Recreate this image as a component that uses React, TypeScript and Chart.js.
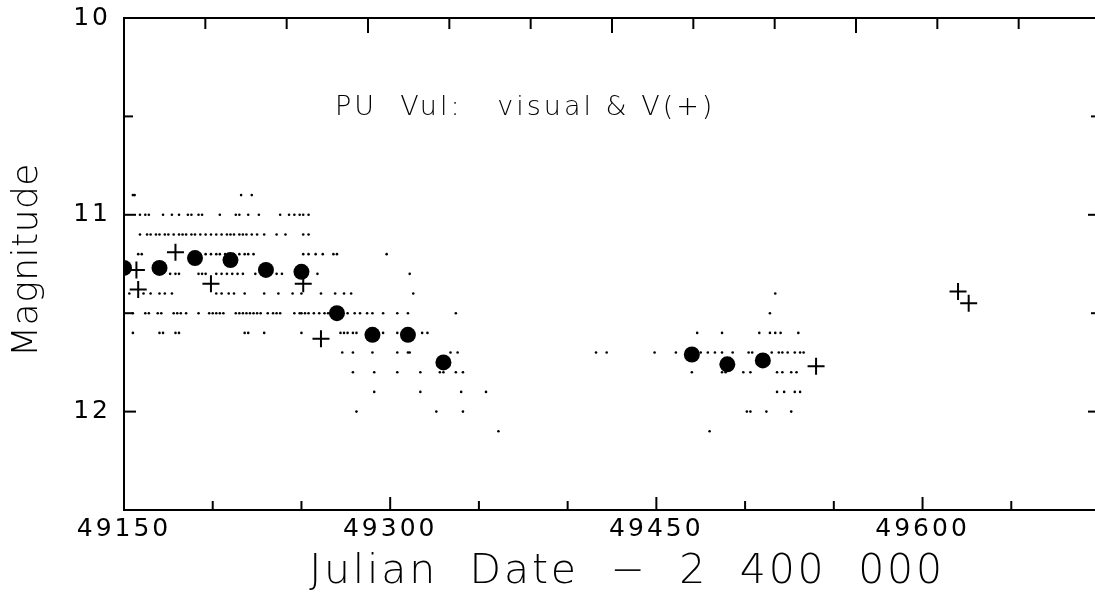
import { useEffect, useRef } from 'react';
import { Chart, registerables } from 'chart.js';

Chart.register(...registerables);

// Axis ranges (Julian Date - 2 400 000, magnitude)
const JD_MIN = 49150;
const JD_MAX = 49700;
const TOP_JD_MAX = 49750;
const MAG_MIN = 10;
const MAG_MAX = 12.5;

const xTickLabels = [49150, 49300, 49450, 49600];
const yTickLabels = [10, 11, 12];

// Visual estimates, grouped by the reported magnitude (0.1 mag steps)
const vis10_9 = [49155, 49156, 49216, 49222];
const vis11_0 = [49159, 49162, 49164, 49172, 49177, 49181, 49186, 49188, 49192, 49194, 49204, 49213, 49215, 49220, 49226, 49238, 49243, 49246, 49249, 49251, 49254];
const vis11_1 = [49159, 49163, 49165, 49168, 49170, 49173, 49175, 49178, 49181, 49183, 49185, 49188, 49190, 49193, 49196, 49199, 49202, 49205, 49208, 49210, 49212, 49215, 49217, 49219, 49222, 49225, 49229, 49236, 49241, 49251, 49254];
const vis11_2 = [49158, 49160, 49193, 49196, 49199, 49202, 49204, 49207, 49209, 49212, 49215, 49218, 49220, 49223, 49251, 49254, 49258, 49262, 49268, 49270, 49298];
const vis11_3 = [49176, 49179, 49181, 49192, 49194, 49196, 49202, 49205, 49208, 49211, 49214, 49217, 49224, 49236, 49239, 49259, 49311];
const vis11_4 = [49153, 49161, 49165, 49170, 49173, 49177, 49202, 49205, 49209, 49212, 49218, 49229, 49237, 49245, 49250, 49261, 49269, 49274, 49278, 49313, 49517];
const vis11_5 = [49155, 49162, 49164, 49169, 49171, 49178, 49180, 49182, 49185, 49192, 49198, 49200, 49202, 49204, 49206, 49213, 49215, 49217, 49219, 49221, 49223, 49225, 49227, 49231, 49234, 49236, 49238, 49246, 49249, 49250, 49252, 49254, 49257, 49260, 49263, 49265, 49276, 49280, 49283, 49287, 49290, 49296, 49304, 49310, 49337, 49514];
const vis11_6 = [49155, 49170, 49172, 49179, 49181, 49218, 49220, 49229, 49250, 49272, 49274, 49276, 49279, 49281, 49296, 49304, 49318, 49321, 49473, 49487, 49508, 49514, 49517, 49520, 49530];
const vis11_7 = [49273, 49279, 49290, 49304, 49310, 49311, 49334, 49338, 49416, 49422, 49449, 49461, 49475, 49479, 49483, 49487, 49493, 49502, 49504, 49515, 49519, 49521, 49524, 49528, 49531, 49533];
const vis11_8 = [49279, 49291, 49304, 49317, 49328, 49330, 49337, 49341, 49470, 49487, 49489, 49499, 49503, 49518, 49521, 49526, 49529];
const vis11_9 = [49291, 49317, 49340, 49354, 49518, 49522, 49528, 49531];
const vis12_0 = [49281, 49326, 49341, 49501, 49503, 49512, 49526];
const vis12_1 = [49361, 49480];

const visualRows: Array<[number, number[]]> = [
  [10.9, vis10_9], [11.0, vis11_0], [11.1, vis11_1], [11.2, vis11_2],
  [11.3, vis11_3], [11.4, vis11_4], [11.5, vis11_5], [11.6, vis11_6],
  [11.7, vis11_7], [11.8, vis11_8], [11.9, vis11_9], [12.0, vis12_0],
  [12.1, vis12_1],
];

// 20-day means of the visual estimates
const meanJD = [49150, 49170, 49190, 49210, 49230, 49250, 49270, 49290, 49310, 49330, 49470, 49490, 49510];
const meanMag = [11.27, 11.27, 11.22, 11.23, 11.28, 11.29, 11.50, 11.61, 11.61, 11.75, 11.71, 11.76, 11.74];

// Photoelectric V magnitudes
const vJD = [49157, 49158, 49179, 49199, 49251, 49261, 49540, 49620, 49626];
const vMag = [11.28, 11.38, 11.19, 11.35, 11.35, 11.63, 11.77, 11.39, 11.45];

const TITLE = 'PU  Vul:   visual & V(+)';
const X_TITLE = 'Julian  Date  \u2212  2  400  000';
const Y_TITLE = 'Magnitude';

const FONT = '"DejaVu Sans", sans-serif';

const framePlugin = {
  id: 'frameAndTexts',
  beforeDraw(chart: any) {
    chart.ctx.letterSpacing = '3px';
  },
  beforeDatasetsDraw(chart: any) {
    chart.ctx.letterSpacing = '0px';
  },
  afterDraw(chart: any) {
    const { ctx, chartArea: a, scales } = chart;
    ctx.save();
    ctx.strokeStyle = '#000';
    ctx.lineWidth = 2;
    ctx.lineCap = 'butt';
    const seg = (x1: number, y1: number, x2: number, y2: number) => {
      ctx.beginPath();
      ctx.moveTo(x1, y1);
      ctx.lineTo(x2, y2);
      ctx.stroke();
    };
    const isMajorX = (v: number) => xTickLabels.includes(v);
    const isMajorY = (v: number) => Math.abs(v - Math.round(v)) < 1e-6;

    // inward ticks on bottom axis
    for (const t of scales.x.ticks) {
      if (t.value <= JD_MIN || t.value >= JD_MAX) continue;
      const px = scales.x.getPixelForValue(t.value);
      seg(px, a.bottom, px, a.bottom - (isMajorX(t.value) ? 13 : 9));
    }
    // inward ticks on top axis
    for (const t of scales.x2.ticks) {
      if (t.value <= JD_MIN || t.value >= TOP_JD_MAX) continue;
      const px = scales.x2.getPixelForValue(t.value);
      seg(px, a.top, px, a.top + (isMajorX(t.value) ? 15 : 11));
    }
    // inward ticks on left and right axes
    for (const t of scales.y.ticks) {
      if (t.value <= MAG_MIN || t.value >= MAG_MAX) continue;
      const py = scales.y.getPixelForValue(t.value);
      const len = isMajorY(t.value) ? 12 : 9;
      seg(a.left, py, a.left + len, py);
      seg(a.right, py, a.right - len, py);
    }

    ctx.fillStyle = '#000';
    // title inside the plot
    ctx.letterSpacing = '3px';
    ctx.font = `200 27px ${FONT}`;
    ctx.textAlign = 'left';
    ctx.textBaseline = 'alphabetic';
    ctx.fillText(TITLE, a.left + 211, a.top + 97);

    // x axis title
    ctx.letterSpacing = '2.8px';
    ctx.font = `200 41px ${FONT}`;
    ctx.textAlign = 'center';
    ctx.fillText(X_TITLE, 627, 583);

    // y axis title
    ctx.letterSpacing = '0.5px';
    ctx.font = `200 36px ${FONT}`;
    ctx.translate(28, 260);
    ctx.rotate(-Math.PI / 2);
    ctx.textBaseline = 'middle';
    ctx.fillText(Y_TITLE, 0, 0);
    ctx.restore();
    ctx.letterSpacing = '0px';
  },
};

export default function App() {
  const ref = useRef<HTMLCanvasElement>(null);

  useEffect(() => {
    const canvas = ref.current;
    if (!canvas) return;
    const visualPts = visualRows.flatMap(([m, jds]) => jds.map((x) => ({ x, y: m })));
    const meanPts = meanJD.map((x, i) => ({ x, y: meanMag[i] }));
    const vPts = vJD.map((x, i) => ({ x, y: vMag[i] }));

    const border = { display: true, color: '#000', width: 2 };
    const noGrid = { display: false, drawTicks: false };
    const noPad = (s: any) => {
      s.paddingTop = 0;
      s.paddingBottom = 0;
      s.paddingLeft = 0;
      s.paddingRight = 0;
    };

    const chart = new Chart(canvas, {
      type: 'scatter',
      data: {
        datasets: [
          {
            label: 'V',
            data: vPts,
            pointStyle: 'cross',
            pointRadius: 8.5,
            borderColor: '#000',
            backgroundColor: '#000',
            borderWidth: 2,
          },
          {
            label: 'mean visual',
            data: meanPts,
            pointStyle: 'circle',
            pointRadius: 8,
            backgroundColor: '#000',
            borderColor: '#000',
            borderWidth: 0,
          },
          {
            label: 'visual',
            data: visualPts,
            pointStyle: 'circle',
            pointRadius: 1.3,
            backgroundColor: '#000',
            borderColor: '#000',
            borderWidth: 0,
          },
        ],
      },
      options: {
        responsive: false,
        animation: false,
        events: [],
        layout: { padding: 0 },
        plugins: {
          legend: { display: false },
          tooltip: { enabled: false },
          title: { display: false },
        },
        scales: {
          x: {
            type: 'linear',
            position: 'bottom',
            min: JD_MIN,
            max: JD_MAX,
            grid: noGrid,
            border,
            ticks: {
              stepSize: 50,
              autoSkip: false,
              maxRotation: 0,
              padding: 4,
              color: '#000',
              font: { family: FONT, size: 25 },
              callback: (v: any) => (xTickLabels.includes(Number(v)) ? String(v) : ''),
            },
            afterFit: (s: any) => {
              s.height = 82;
              noPad(s);
            },
          },
          x2: {
            type: 'linear',
            position: 'top',
            min: JD_MIN,
            max: TOP_JD_MAX,
            grid: noGrid,
            border,
            ticks: { display: false, stepSize: 50 },
            afterFit: (s: any) => {
              s.height = 18;
              noPad(s);
            },
          },
          y: {
            type: 'linear',
            position: 'left',
            reverse: true,
            min: MAG_MIN,
            max: MAG_MAX,
            grid: noGrid,
            border,
            ticks: {
              stepSize: 0.5,
              autoSkip: false,
              padding: 13,
              color: '#000',
              font: { family: FONT, size: 25 },
              callback: (v: any) => (yTickLabels.includes(Number(v)) ? String(v) : ''),
            },
            afterFit: (s: any) => {
              s.width = 124;
              noPad(s);
            },
          },
          y2: {
            type: 'linear',
            position: 'right',
            reverse: true,
            min: MAG_MIN,
            max: MAG_MAX,
            grid: noGrid,
            border,
            ticks: { display: false },
            afterFit: (s: any) => {
              s.width = 20;
              noPad(s);
            },
          },
        },
      } as any,
      plugins: [framePlugin],
    });
    return () => chart.destroy();
  }, []);

  return (
    <div
      style={{
        position: 'fixed',
        left: 0,
        top: 0,
        width: 1095,
        height: 592,
        overflow: 'hidden',
        background: '#fff',
      }}
    >
      <canvas ref={ref} width={1120} height={592} style={{ display: 'block', width: 1120, height: 592 }} />
    </div>
  );
}
